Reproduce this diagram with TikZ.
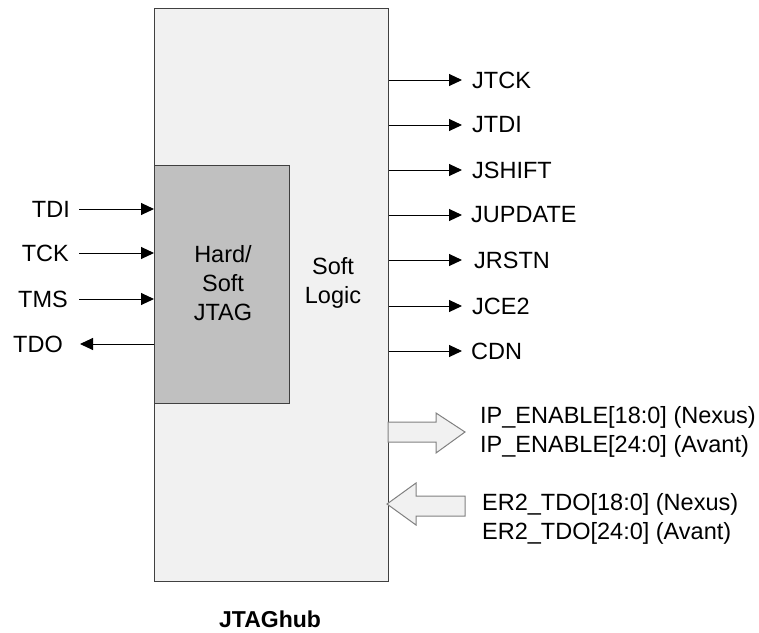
\documentclass[tikz,border=0pt]{standalone}
\usepackage{fontspec}
\setmainfont{Liberation Sans}
\usepackage{xcolor}
\usepackage{tikz}
\usetikzlibrary{arrows.meta}

\definecolor{boxline}{HTML}{404040}
\definecolor{hubfill}{HTML}{F1F1F1}
\definecolor{jtagfill}{HTML}{C0C0C0}

\tikzset{
  lbl/.style={inner sep=0pt, font=\fontsize{23.5}{29}\selectfont},
  sig/.style={line width=1pt, -{Triangle[length=13pt,width=12pt]}},
  bus/.style={draw=gray, line width=1pt, fill=hubfill}
}

\begin{document}
\begin{tikzpicture}[x=1pt,y=-1pt]
        \useasboundingbox (0,0) rectangle (759,632);
        % Blocks
        \node[draw=boxline, line width=1.3pt, fill=hubfill, minimum width=234pt, minimum height=573pt, anchor=north west, inner sep=0pt] (hub) at (154,8) {};
        \node[draw=boxline, line width=1.3pt, fill=jtagfill, minimum width=135pt, minimum height=238pt, anchor=north west, inner sep=0pt] (jtag) at (154,165) {};
        \node[lbl, align=center] (jtagtxt) at (223,283) {Hard/\\Soft\\JTAG};
        \node[lbl, align=center] (soft) at (333,283) {Soft\\Logic};
        \node[lbl, font=\fontsize{23}{27}\selectfont\bfseries] (title) at (270,619) {JTAGhub};
        % Left side
        \node[lbl, anchor=east, inner xsep=9pt] (tdi) at (79,209) {TDI};
        \node[lbl, anchor=east, inner xsep=10pt] (tck) at (79,253) {TCK};
        \node[lbl, anchor=east, inner xsep=11pt] (tms) at (79,299) {TMS};
        \node[lbl, anchor=east, inner xsep=17pt] (tdo) at (80,344) {TDO};
        % Right side
        \node[lbl, anchor=west, inner xsep=10pt] (jtck) at (462,80) {JTCK};
        \node[lbl, anchor=west, inner xsep=10pt] (jtdi) at (462,125) {JTDI};
        \node[lbl, anchor=west, inner xsep=10pt] (jshift) at (462,170) {JSHIFT};
        \node[lbl, anchor=west, inner xsep=9pt] (jupdate) at (462,215) {JUPDATE};
        \node[lbl, anchor=west, inner xsep=12pt] (jrstn) at (462,260) {JRSTN};
        \node[lbl, anchor=west, inner xsep=10pt] (jce2) at (462,306) {JCE2};
        \node[lbl, anchor=west, inner xsep=9pt] (cdn) at (462,351) {CDN};
        % Buses
        \node[lbl, anchor=west, align=left] (ipen) at (480,432) {IP\_ENABLE[18:0] (Nexus)\\IP\_ENABLE[24:0] (Avant)};
        \node[lbl, anchor=west, align=left] (er2) at (482,519) {ER2\_TDO[18:0] (Nexus)\\ER2\_TDO[24:0] (Avant)};
        % Edges
        \draw[sig] (tdi) -- (tdi -| jtag.west);
        \draw[sig] (tck) -- (tck -| jtag.west);
        \draw[sig] (tms) -- (tms -| jtag.west);
        \draw[sig] (tdo -| jtag.west) -- (tdo);
        \draw[sig] (jtck -| hub.east) -- (jtck);
        \draw[sig] (jtdi -| hub.east) -- (jtdi);
        \draw[sig] (jshift -| hub.east) -- (jshift);
        \draw[sig] (jupdate -| hub.east) -- (jupdate);
        \draw[sig] (jrstn -| hub.east) -- (jrstn);
        \draw[sig] (jce2 -| hub.east) -- (jce2);
        \draw[sig] (cdn -| hub.east) -- (cdn);
        % Hollow arrows
        \draw[bus] (388,422) -- (436,422) -- (436,413) -- (465,432) -- (436,453) -- (436,442) -- (388,442) -- cycle;
        \draw[bus] (387,504) -- (416,483) -- (416,496) -- (465,496) -- (465,516) -- (416,516) -- (416,525) -- cycle;
    \end{tikzpicture}
\end{document}
